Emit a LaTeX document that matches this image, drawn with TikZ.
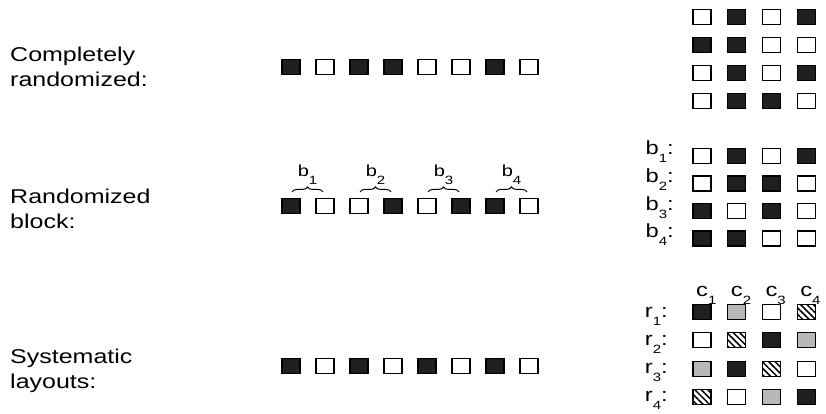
\documentclass[tikz,border=0pt]{standalone}
\usepackage{fontspec}
\setmainfont{Liberation Sans}[FakeStretch=1.25]
\usetikzlibrary{positioning, decorations.pathreplacing, patterns.meta}

\newcommand{\idx}[2]{#1\raisebox{-8pt}{\fontsize{12}{12}\selectfont #2}}

\begin{document}
\begin{tikzpicture}[
  x=1pt, y=-1pt,
  unit/.style={draw=black, line width=1.1pt, minimum width=18pt, minimum height=15pt, inner sep=0pt},
  k cell/.style={unit, fill=black!88},
  w cell/.style={unit, fill=white},
  g cell/.style={unit, fill=black!28},
  h cell/.style={unit, pattern={Lines[angle=-45, distance=4.5pt, line width=1.5pt]}},
  lbl/.style={font=\fontsize{20}{25}\selectfont, inner sep=0pt},
  glbl/.style={font=\fontsize{19}{22}\selectfont, inner sep=0pt},
  blockbrace/.style={decorate, decoration={brace, amplitude=5pt}, line width=1pt}
]
  \useasboundingbox (0,0) rectangle (826,414);

  % Beschriftungen links
  \node[lbl, align=left, anchor=base west] (t-cr) at (10, 87) {Completely\\randomized:};
  \node[lbl, align=left, anchor=base west] (t-rb) at (10, 228) {Randomized\\block:};
  \node[lbl, align=left, anchor=base west] (t-sy) at (10, 388) {Systematic\\layouts:};

  % Zeilen in der Mitte
  \foreach \t [count=\i] in {k,w,k,k,w,w,k,w}
    \node[\t\space cell] (cr\i) at ({291+34*(\i-1)}, 67) {};
  \foreach \t [count=\i] in {k,w,w,k,w,k,k,w}
    \node[\t\space cell] (rb\i) at ({291+34*(\i-1)}, 206) {};
  \foreach \t [count=\i] in {k,w,k,w,k,w,k,w}
    \node[\t\space cell] (sy\i) at ({291+34*(\i-1)}, 366) {};

  % Bloecke
  \foreach \i in {1,...,4} {
    \pgfmathtruncatemacro{\p}{2*\i-1}
    \pgfmathtruncatemacro{\q}{2*\i}
    \draw[blockbrace] ([xshift=1pt, yshift=6pt]rb\p.north) -- ([xshift=-2pt, yshift=6pt]rb\q.north)
      node[midway, anchor=base, yshift=15pt, font=\fontsize{16}{16}\selectfont, inner sep=0pt] (bt\i) {\idx{b}{\i}};
  }

  % Raster rechts
  \foreach \row [count=\j] in {{w,k,w,k},{k,k,w,w},{w,k,w,k},{w,k,k,w}}
    \foreach \t [count=\i] in \row
      \node[\t\space cell] (ga-\j-\i) at ({702+34.7*(\i-1)}, {17+28*(\j-1)}) {};
  \foreach \row [count=\j] in {{w,k,w,k},{w,k,k,w},{k,w,k,w},{k,k,w,w}}
    \foreach \t [count=\i] in \row
      \node[\t\space cell] (gb-\j-\i) at ({702+34.7*(\i-1)}, {156+27.5*(\j-1)}) {};
  \foreach \row [count=\j] in {{k,g,w,h},{w,h,k,g},{g,k,h,w},{h,w,g,k}}
    \foreach \t [count=\i] in \row
      \node[\t\space cell] (gc-\j-\i) at ({702+34.7*(\i-1)}, {312+28.3*(\j-1)}) {};

  \foreach \j in {1,...,4}
    \node[glbl, anchor=base east] (bl\j) at (674, {155+27.5*(\j-1)}) {\idx{b}{\j}:};
  \foreach \j in {1,...,4}
    \node[glbl, anchor=base east] (rl\j) at (668, {317+28.3*(\j-1)}) {\idx{r}{\j}:};
  \foreach \i in {1,...,4}
    \node[glbl, anchor=base west] (cl\i) at ({696+34.7*(\i-1)}, 296) {\idx{c}{\i}};
\end{tikzpicture}
\end{document}
